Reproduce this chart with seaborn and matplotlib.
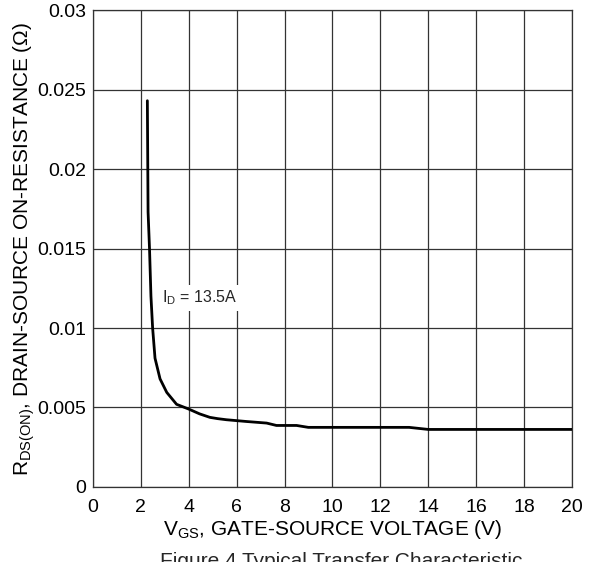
import matplotlib
matplotlib.use("Agg")
import matplotlib.pyplot as plt
import seaborn as sns
import pandas as pd

# Typical transfer characteristic: on-resistance vs. gate-source voltage (ID = 13.5 A)
vgs = [2.27, 2.30, 2.36, 2.42, 2.49, 2.59, 2.80, 3.08, 3.49, 4.00, 4.45,
       4.88, 5.20, 5.57, 6.40, 7.25, 7.66, 8.50, 8.99, 13.2, 14.0, 20.0]
rds_on = [0.0243, 0.0173, 0.0150, 0.0120, 0.0100, 0.0081, 0.0068, 0.00595,
          0.0052, 0.0049, 0.0046, 0.00438, 0.0043, 0.00423, 0.00412, 0.00402,
          0.00387, 0.00387, 0.00375, 0.00375, 0.00362, 0.00362]

x_ticks = [0, 2, 4, 6, 8, 10, 12, 14, 16, 18, 20]
y_ticks = [0, 0.005, 0.01, 0.015, 0.02, 0.025, 0.03]
y_tick_labels = ["0", "0.005", "0.01", "0.015", "0.02", "0.025", "0.03"]

df = pd.DataFrame({"vgs": vgs, "rds": rds_on})

sns.set_theme(style="white")
plt.rcParams["font.family"] = ["Liberation Sans", "DejaVu Sans"]

fig = plt.figure(figsize=(5.98, 5.62), dpi=100)
ax = fig.add_axes([0.1555, 0.1335, 0.801, 0.8485])

sns.lineplot(data=df, x="vgs", y="rds", ax=ax, sort=False, estimator=None,
             color="black", linewidth=2.0, zorder=3)

ax.set_xlim(0, 20)
ax.set_ylim(0, 0.03)
ax.set_xticks(x_ticks)
ax.set_xticklabels([str(t) for t in x_ticks], fontsize=14)
ax.set_yticks(y_ticks)
ax.set_yticklabels(y_tick_labels, fontsize=14)
ax.tick_params(axis="both", length=0, colors="black")
ax.tick_params(axis="x", pad=9)
ax.tick_params(axis="y", pad=5)
ax.grid(True, color="#333333", linewidth=0.9)
for s in ax.spines.values():
    s.set_color("#333333")
    s.set_linewidth(0.9)

ax.set_xlabel(r"V$_{\mathregular{GS}}$, GATE-SOURCE VOLTAGE (V)", fontsize=15,
              labelpad=1, color="black")
ax.set_ylabel(r"R$_{\mathregular{DS(ON)}}$, DRAIN-SOURCE ON-RESISTANCE (Ω)",
              fontsize=15, labelpad=0, color="black")

ax.text(4.43, 0.0119, r"I$_{\mathregular{D}}$ = 13.5A", fontsize=11.5,
        ha="center", va="center", zorder=4,
        bbox=dict(facecolor="white", edgecolor="none", pad=2.5))

fig.text(0.57, 1 - 567 / 562, "Figure 4 Typical Transfer Characteristic",
         ha="center", va="baseline", fontsize=15)

fig.savefig("out.png", dpi=100)
